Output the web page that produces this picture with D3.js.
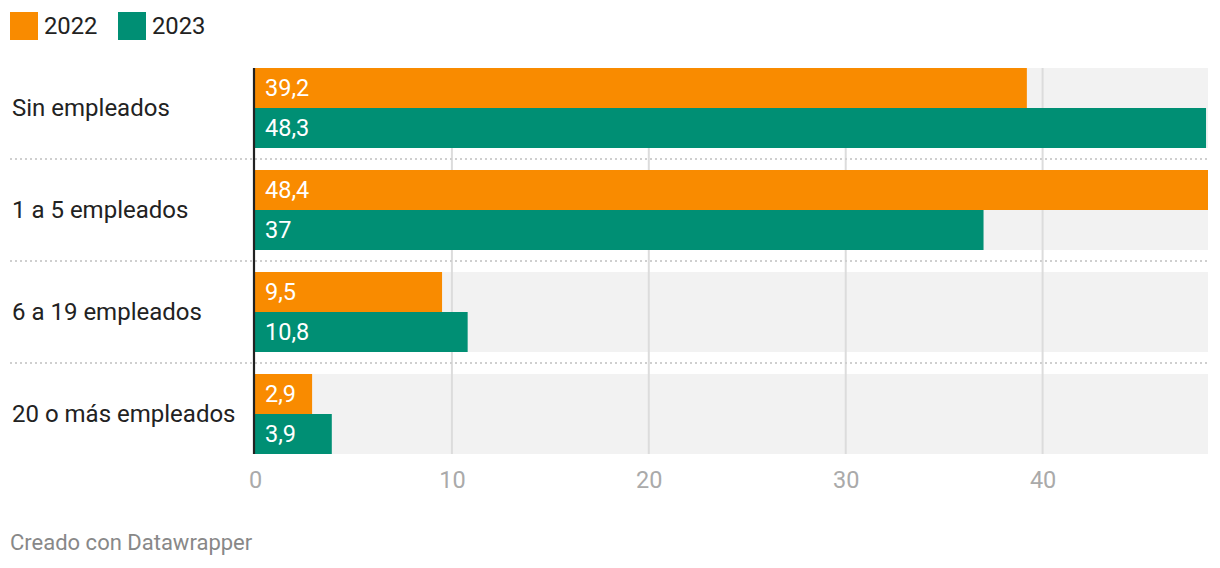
<!DOCTYPE html>
<html>
<head>
<meta charset="utf-8">
<script src="https://cdn.jsdelivr.net/npm/d3@7"></script>
<style>
  html, body { margin: 0; padding: 0; background: #fff; }
  svg { display: block; font-family: Roboto, "Noto Sans", sans-serif; }
</style>
</head>
<body>
<svg id="chart" width="1220" height="568"></svg>
<script>
const categories = ["Sin empleados", "1 a 5 empleados", "6 a 19 empleados", "20 o más empleados"];
const seriesNames = ["2022", "2023"];
const values2022 = [39.2, 48.4, 9.5, 2.9];
const values2023 = [48.3, 37, 10.8, 3.9];
const tickValues = [0, 10, 20, 30, 40];
const colors = ["#f98b00", "#008f74"];
const footer = "Creado con Datawrapper";

const svg = d3.select("#chart");
const fmt = v => String(v).replace(".", ",");

const x = d3.scaleLinear().domain([0, d3.max(values2022.concat(values2023))]).range([255, 1208]);
const yGroup = d3.scaleBand().domain(categories).range([68, 476]).paddingInner(0);
const groupH = 80;
const ySub = d3.scaleBand().domain(seriesNames).range([0, groupH]);

// legend
const leg = svg.append("g");
const legX = [10, 118];
seriesNames.forEach((s, i) => {
  leg.append("rect").attr("x", legX[i]).attr("y", 12).attr("width", 28).attr("height", 28).attr("fill", colors[i]);
  leg.append("text").attr("x", legX[i] + 34).attr("y", 34.3).attr("font-size", 23.8).attr("fill", "#222").text(s);
});

// background bands
svg.append("g").selectAll("rect").data(categories).join("rect")
  .attr("x", x(0)).attr("y", d => yGroup(d)).attr("width", x.range()[1] - x(0)).attr("height", groupH)
  .attr("fill", "#f2f2f2");

// grid lines
svg.append("g").selectAll("line").data(tickValues.filter(t => t > 0)).join("line")
  .attr("x1", d => x(d)).attr("x2", d => x(d)).attr("y1", 68).attr("y2", 454)
  .attr("stroke", "#dcdcdc").attr("stroke-width", 2);

// dotted separators
svg.append("g").selectAll("line").data(categories.slice(1)).join("line")
  .attr("x1", 10).attr("x2", 1208)
  .attr("y1", d => yGroup(d) - 11).attr("y2", d => yGroup(d) - 11)
  .attr("stroke", "#cfcfcf").attr("stroke-width", 2).attr("stroke-dasharray", "2,3");

// bars
const series = [values2022, values2023];
const barsG = svg.append("g");
categories.forEach((c, ci) => {
  seriesNames.forEach((s, si) => {
    const v = series[si][ci];
    const y0 = yGroup(c) + ySub(s);
    barsG.append("rect").attr("x", x(0)).attr("y", y0).attr("width", x(v) - x(0)).attr("height", ySub.bandwidth())
      .attr("fill", colors[si]);
    barsG.append("text").attr("x", x(0) + 10).attr("y", y0 + ySub.bandwidth() / 2 + 8)
      .attr("font-size", 23.5).attr("fill", "#fff").text(fmt(v));
  });
});

// category labels
svg.append("g").selectAll("text").data(categories).join("text")
  .attr("x", 12).attr("y", d => yGroup(d) + groupH / 2 + 8)
  .attr("font-size", 24).attr("fill", "#222").text(d => d);

// axis line
svg.append("line").attr("x1", 254).attr("x2", 254).attr("y1", 68).attr("y2", 454)
  .attr("stroke", "#222").attr("stroke-width", 2.2);

// x axis
const axis = d3.axisBottom(x).tickValues(tickValues).tickSize(0).tickFormat(d => d);
const ag = svg.append("g").attr("transform", "translate(0,454)").call(axis);
ag.select(".domain").remove();
ag.selectAll("text").attr("font-size", 23.5).attr("fill", "#aaa").attr("font-family", "Roboto").attr("dy", 0).attr("y", 34);

// footer
svg.append("text").attr("x", 10).attr("y", 550).attr("font-size", 22).attr("fill", "#888").text(footer);
</script>
</body>
</html>
